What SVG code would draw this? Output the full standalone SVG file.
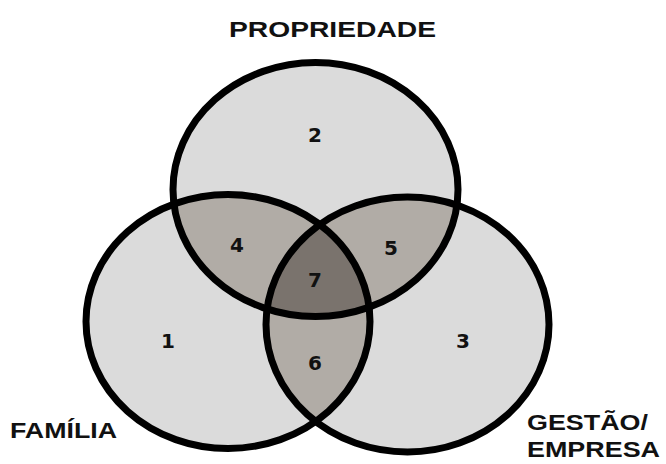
<svg xmlns="http://www.w3.org/2000/svg" width="666" height="464" viewBox="0 0 666 464">
  <style>
    .base { fill: #dbdbdb; }
    .pair { fill: #b1aca6; }
    .core { fill: #7a736d; }
    .ring { fill: none; stroke: #000; stroke-width: 7; }
    .num { font-family: "DejaVu Sans", "Liberation Sans", sans-serif; font-weight: bold; font-size: 20px; fill: #111; text-anchor: middle; }
    .label { font-family: "Liberation Sans", Arial, sans-serif; font-weight: bold; font-size: 22px; fill: #111; }
  </style>
  <defs>
    <ellipse id="eTop" cx="315.5" cy="189.5" rx="142.5" ry="127"/>
    <ellipse id="eLeft" cx="228" cy="321.5" rx="142" ry="127"/>
    <ellipse id="eRight" cx="407.5" cy="324.5" rx="141.5" ry="127.5"/>
    <clipPath id="clipTop"><use href="#eTop"/></clipPath>
    <clipPath id="clipLeft"><use href="#eLeft"/></clipPath>
    <clipPath id="clipRight"><use href="#eRight"/></clipPath>
  </defs>

  <rect width="666" height="464" fill="#fff"/>

  <!-- base fills of the three sets -->
  <g id="fills">
    <use href="#eTop" class="base"/>
    <use href="#eLeft" class="base"/>
    <use href="#eRight" class="base"/>
  </g>

  <!-- pairwise overlaps and the shared core -->
  <g id="overlaps">
    <use href="#eLeft" class="pair" clip-path="url(#clipTop)"/>
    <use href="#eRight" class="pair" clip-path="url(#clipTop)"/>
    <use href="#eRight" class="pair" clip-path="url(#clipLeft)"/>
    <g clip-path="url(#clipRight)">
      <use href="#eLeft" class="core" clip-path="url(#clipTop)"/>
    </g>
  </g>

  <!-- outlines and set labels -->
  <g id="propriedade">
    <use href="#eTop" class="ring"/>
    <text class="label" x="229" y="37" textLength="207" lengthAdjust="spacingAndGlyphs">PROPRIEDADE</text>
  </g>
  <g id="familia">
    <use href="#eLeft" class="ring"/>
    <text class="label" x="10" y="438" textLength="107" lengthAdjust="spacingAndGlyphs">FAMÍLIA</text>
  </g>
  <g id="gestao">
    <use href="#eRight" class="ring"/>
    <text class="label" x="527" y="430" textLength="121" lengthAdjust="spacingAndGlyphs">GESTÃO/</text>
    <text class="label" x="527" y="457" textLength="133" lengthAdjust="spacingAndGlyphs">EMPRESA</text>
  </g>

  <!-- region numbers -->
  <g id="regions">
    <text class="num" x="315" y="142">2</text>
    <text class="num" x="237" y="252">4</text>
    <text class="num" x="391" y="255">5</text>
    <text class="num" x="315" y="287">7</text>
    <text class="num" x="168" y="348">1</text>
    <text class="num" x="463" y="348">3</text>
    <text class="num" x="315" y="370">6</text>
  </g>
</svg>
